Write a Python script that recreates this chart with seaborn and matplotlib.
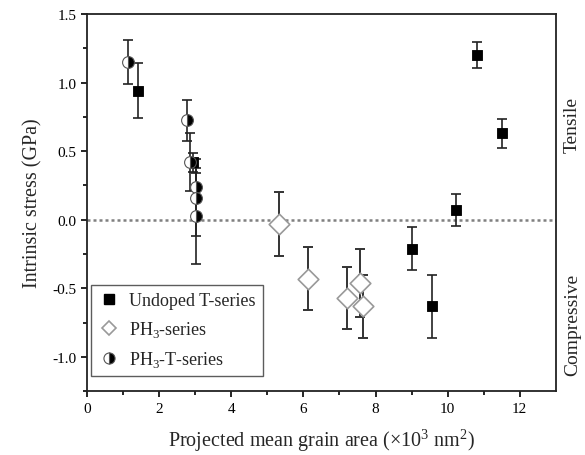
import numpy as np
import matplotlib
matplotlib.use("Agg")
import matplotlib.pyplot as plt
import seaborn as sns
from matplotlib.lines import Line2D

# Undoped T-series (filled squares)
undoped_x = [1.40, 2.95, 9.00, 9.57, 10.23, 10.81, 11.52]
undoped_y = [0.94, 0.42, -0.21, -0.63, 0.07, 1.20, 0.63]
undoped_err = [0.20, 0.07, 0.16, 0.23, 0.115, 0.095, 0.105]

# PH3-series (open diamonds)
ph3_x = [5.33, 6.14, 7.22, 7.56, 7.66]
ph3_y = [-0.03, -0.43, -0.57, -0.46, -0.63]
ph3_err = [0.235, 0.23, 0.225, 0.25, 0.23]

# PH3-T-series (half-filled circles)
ph3t_x = [1.14, 2.77, 2.85, 3.03, 3.01, 3.01]
ph3t_y = [1.15, 0.725, 0.42, 0.24, 0.16, 0.03]
ph3t_err = [0.16, 0.15, 0.21, 0.10, 0.28, 0.35]

sns.set_style("ticks")
plt.rcParams["font.family"] = ["Liberation Serif", "DejaVu Serif"]
plt.rcParams["mathtext.fontset"] = "custom"
plt.rcParams["mathtext.rm"] = "Liberation Serif"

fig = plt.figure(figsize=(5.85, 4.56), dpi=100)
ax = fig.add_axes([0.149, 0.140, 0.801, 0.827])

ax.axhline(0, color="#808080", linestyle=(0, (1.2, 1.2)), linewidth=1.8, zorder=1)

# error bars
ax.errorbar(undoped_x, undoped_y, yerr=undoped_err, fmt="none", ecolor="#222222",
            elinewidth=1.2, capsize=3.5, capthick=1.2, zorder=2)
ax.errorbar(ph3_x, ph3_y, yerr=ph3_err, fmt="none", ecolor="#333333",
            elinewidth=1.4, capsize=3.5, capthick=1.4, zorder=2)
ax.errorbar(ph3t_x, ph3t_y, yerr=ph3t_err, fmt="none", ecolor="#222222",
            elinewidth=1.2, capsize=3.5, capthick=1.2, zorder=2)

# markers
sns.scatterplot(x=ph3_x, y=ph3_y, marker="D", s=110, color="white",
                edgecolor="#999999", linewidth=1.2, ax=ax, zorder=3)
sns.scatterplot(x=undoped_x, y=undoped_y, marker="s", s=60, color="black",
                edgecolor="black", ax=ax, zorder=4)
ax.plot(ph3t_x, ph3t_y, linestyle="none", marker="o", markersize=8.5,
        fillstyle="right", markerfacecolor="black", markerfacecoloralt="white",
        markeredgecolor="#555555", markeredgewidth=0.8, zorder=5)

ax.set_xlim(0, 13)
ax.set_ylim(-1.25, 1.5)
ax.set_xticks(np.arange(0, 13, 2))
ax.set_xticks(np.arange(1, 13, 2), minor=True)
ax.set_yticks([-1.0, -0.5, 0.0, 0.5, 1.0, 1.5])
ax.set_yticks(np.arange(-1.25, 1.5, 0.25), minor=True)
ax.set_yticklabels(["-1.0", "-0.5", "0.0", "0.5", "1.0", "1.5"])
ax.tick_params(which="both", direction="out", length=4, width=1.2, labelsize=11,
               colors="black")
ax.tick_params(which="minor", length=3)
for sp in ax.spines.values():
    sp.set_linewidth(1.3)
    sp.set_color("#222222")

ax.set_xlabel("Projected mean grain area (×10$^3$ nm$^2$)", fontsize=14.5, labelpad=8)
ax.set_ylabel("Intrinsic stress (GPa)", fontsize=14.5, labelpad=7)

ax.text(1.036, 0.708, "Tensile", transform=ax.transAxes, rotation=90,
        ha="center", va="center", fontsize=14)
ax.text(1.036, 0.178, "Compressive", transform=ax.transAxes, rotation=90,
        ha="center", va="center", fontsize=14)

handles = [
    Line2D([], [], linestyle="none", marker="s", markersize=7, color="black"),
    Line2D([], [], linestyle="none", marker="D", markersize=7.5, markerfacecolor="white",
           markeredgecolor="#999999", markeredgewidth=1.2),
    Line2D([], [], linestyle="none", marker="o", markersize=8, fillstyle="right",
           markerfacecolor="black", markerfacecoloralt="white",
           markeredgecolor="#555555", markeredgewidth=0.8),
]
labels = ["Undoped T-series", "PH$_3$-series", "PH$_3$-T-series"]
leg = ax.legend(handles, labels, loc="lower left", bbox_to_anchor=(0.008, 0.04),
                fontsize=13, frameon=True, fancybox=False, edgecolor="#333333",
                borderpad=0.4, labelspacing=0.55, handlelength=1.2,
                handletextpad=0.5, borderaxespad=0.0)
leg.get_frame().set_linewidth(1.0)

fig.savefig("out.png", dpi=100)
